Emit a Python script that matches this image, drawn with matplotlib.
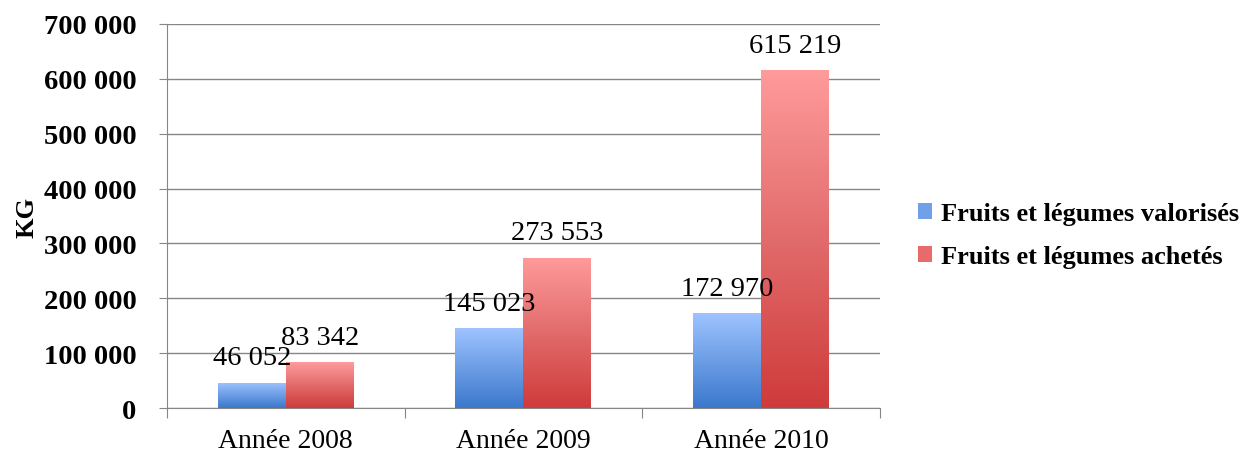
import numpy as np
import matplotlib.pyplot as plt
from matplotlib.colors import LinearSegmentedColormap
from matplotlib.patches import Patch
from matplotlib.ticker import FuncFormatter, FixedLocator

# Data
categories = ["Année 2008", "Année 2009", "Année 2010"]
valorises = [46052, 145023, 172970]
achetes = [83342, 273553, 615219]
series_names = ["Fruits et légumes valorisés", "Fruits et légumes achetés"]

plt.rcParams["font.family"] = ["Liberation Serif", "DejaVu Serif"]

blue_cmap = LinearSegmentedColormap.from_list("blue", ["#3B78CC", "#9EC3FF"])
red_cmap = LinearSegmentedColormap.from_list("red", ["#CF3B3B", "#E26B6B", "#FF9B9B"])


def fmt(v, pos=None):
    return f"{v:,.0f}".replace(",", " ")


fig = plt.figure(figsize=(12.46, 4.52), dpi=100)
ax = fig.add_axes([0.134, 0.095, 0.572, 0.850])

x = np.arange(len(categories))
w = 0.286
bars_b = ax.bar(x - w / 2, valorises, w, facecolor="none", edgecolor="none")
bars_r = ax.bar(x + w / 2, achetes, w, facecolor="none", edgecolor="none")

grad = np.linspace(0, 1, 256).reshape(-1, 1)
for bars, cmap in ((bars_b, blue_cmap), (bars_r, red_cmap)):
    for b in bars:
        bx, by, bw, bh = b.get_x(), b.get_y(), b.get_width(), b.get_height()
        im = ax.imshow(grad, extent=[bx, bx + bw, by, by + bh], origin="lower",
                       aspect="auto", cmap=cmap, zorder=2)
        im.set_clip_path(b)

# data labels
for bars, vals in ((bars_b, valorises), (bars_r, achetes)):
    for b, v in zip(bars, vals):
        ax.annotate(fmt(v), (b.get_x() + b.get_width() / 2, v),
                    xytext=(0, 9), textcoords="offset points",
                    ha="center", va="bottom", fontsize=20.5, zorder=4)

ax.set_xlim(-0.5, len(categories) - 0.5)
ax.set_ylim(0, 700000)
ax.yaxis.set_major_locator(FixedLocator(np.arange(0, 700001, 100000)))
ax.yaxis.set_major_formatter(FuncFormatter(fmt))
ax.grid(axis="y", color="#868686", linewidth=1)
ax.set_axisbelow(True)

for s in ("top", "right"):
    ax.spines[s].set_visible(False)
for s in ("left", "bottom"):
    ax.spines[s].set_color("#868686")

# category boundary ticks
ax.set_xticks(np.arange(-0.5, len(categories)), minor=False)
ax.set_xticklabels([])
ax.set_xticks(x, minor=True)
ax.set_xticklabels(categories, minor=True, fontsize=20)
ax.tick_params(axis="x", which="major", length=7, color="#868686")
ax.tick_params(axis="x", which="minor", length=0, pad=14)
ax.tick_params(axis="y", length=6, color="#868686", labelsize=20.5, pad=16)
for lbl in ax.get_yticklabels():
    lbl.set_fontweight("bold")

ax.set_ylabel("KG", fontsize=19, fontweight="bold", labelpad=4)

handles = [Patch(facecolor="#6FA0E8"), Patch(facecolor="#E86A6A")]
ax.legend(handles, series_names, loc="center left", bbox_to_anchor=(1.02, 0.45),
          frameon=False, handlelength=0.55, handleheight=0.55,
          handletextpad=0.35, labelspacing=0.75, prop={"size": 19, "weight": "bold"})

fig.savefig("out.png", dpi=100)
